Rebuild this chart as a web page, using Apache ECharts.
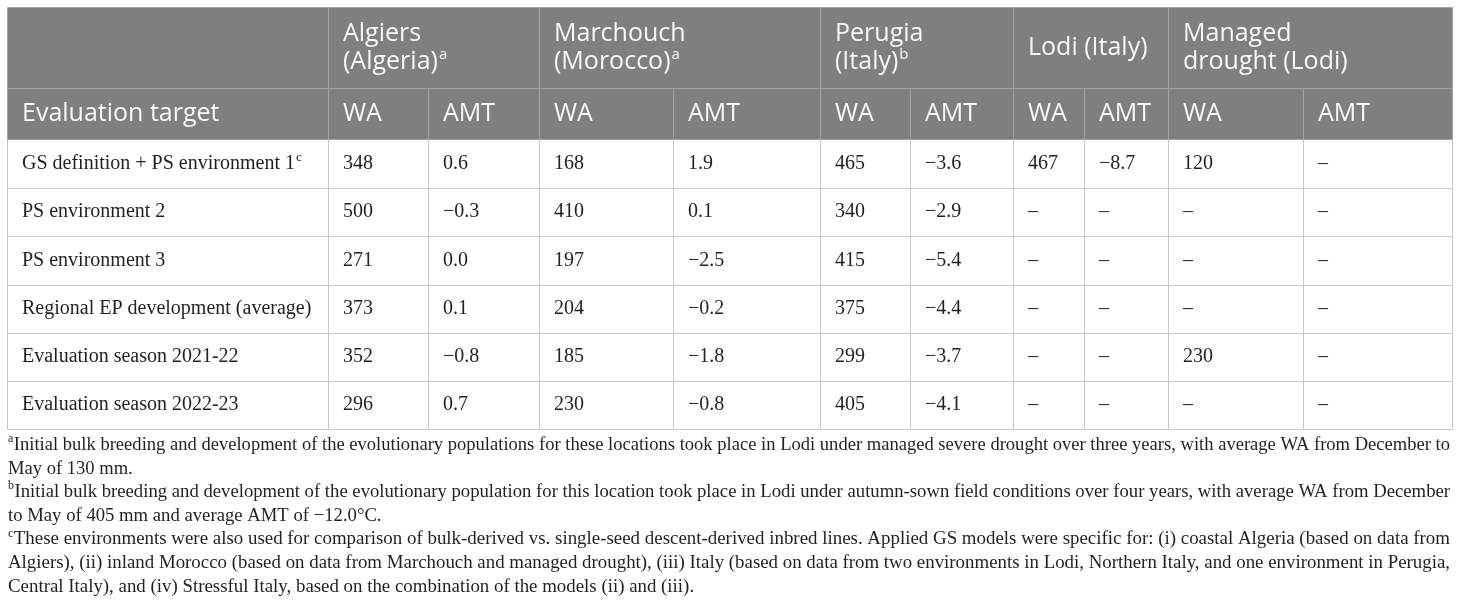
<!DOCTYPE html>
<html>
<head>
<meta charset="utf-8">
<script src="https://cdn.jsdelivr.net/npm/echarts@6/dist/echarts.min.js"></script>
<style>
  html, body { margin: 0; padding: 0; background: #fff; }
  #main { width: 1460px; height: 615px; }
</style>
</head>
<body>
<div id="main"></div>
<script>
// ===== 数据 =====
var sites = ['Algiers\n(Algeria)', 'Marchouch\n(Morocco)', 'Perugia\n(Italy)', 'Lodi (Italy)', 'Managed\ndrought (Lodi)'];
var siteNotes = ['a', 'a', 'b', '', ''];
var subHeads = ['WA', 'AMT'];
var firstHead = 'Evaluation target';

var targets = [
  'GS definition + PS environment 1',
  'PS environment 2',
  'PS environment 3',
  'Regional EP development (average)',
  'Evaluation season 2021-22',
  'Evaluation season 2022-23'
];
var targetNotes = ['c', '', '', '', '', ''];

var waAlgiers    = [348, 500, 271, 373, 352, 296];
var amtAlgiers   = [0.6, -0.3, 0.0, 0.1, -0.8, 0.7];
var waMarchouch  = [168, 410, 197, 204, 185, 230];
var amtMarchouch = [1.9, 0.1, -2.5, -0.2, -1.8, -0.8];
var waPerugia    = [465, 340, 415, 375, 299, 405];
var amtPerugia   = [-3.6, -2.9, -5.4, -4.4, -3.7, -4.1];
var waLodi       = [467, null, null, null, null, null];
var amtLodi      = [-8.7, null, null, null, null, null];
var waDrought    = [120, null, null, null, 230, null];
var amtDrought   = [null, null, null, null, null, null];

var footNotes = [
  { mark: 'a', lines: [
    'Initial bulk breeding and development of the evolutionary populations for these locations took place in Lodi under managed severe drought over three years, with average WA from December to',
    'May of 130 mm.'
  ]},
  { mark: 'b', lines: [
    'Initial bulk breeding and development of the evolutionary population for this location took place in Lodi under autumn-sown field conditions over four years, with average WA from December',
    'to May of 405 mm and average AMT of \u221212.0\u00b0C.'
  ]},
  { mark: 'c', lines: [
    'These environments were also used for comparison of bulk-derived vs. single-seed descent-derived inbred lines. Applied GS models were specific for: (i) coastal Algeria (based on data from',
    'Algiers), (ii) inland Morocco (based on data from Marchouch and managed drought), (iii) Italy (based on data from two environments in Lodi, Northern Italy, and one environment in Perugia,',
    'Central Italy), and (iv) Stressful Italy, based on the combination of the models (ii) and (iii).'
  ]}
];

// ===== 版式 =====
var colEdges = [7, 328, 428, 539, 673, 820, 910, 1013, 1084, 1168, 1303, 1452];
var rowEdges = [7, 88, 139, 188, 236, 285, 333, 381, 429];
var PAD = 15;
var HEAD_FONT = '25px "Open Sans"';
var HEAD_SUP = '15px "Open Sans"';
var HEAD_LH = 28;
var BODY_FONT = '20px "Liberation Serif"';
var BODY_SUP = '13px "Liberation Serif"';
var FOOT_FONT = '19px "Liberation Serif"';
var FOOT_SUP = '12px "Liberation Serif"';
var FOOT_X = 8, FOOT_RIGHT = 1450, FOOT_Y0 = 445, FOOT_GAP = 23.6;

var measureCtx = document.createElement('canvas').getContext('2d');
function textW(s, font) { measureCtx.font = font; return measureCtx.measureText(s).width; }

function fmtWa(v) { return v == null ? '\u2013' : String(v); }
function fmtAmt(v) {
  if (v == null) return '\u2013';
  var s = Math.abs(v).toFixed(1);
  return v < 0 ? '\u2212' + s : s;
}

// ===== 单元格 =====
var headCells = [];
headCells.push({ x0: colEdges[0], x1: colEdges[1], y0: rowEdges[0], y1: rowEdges[1], text: '', sup: '' });
sites.forEach(function(s, i) {
  headCells.push({ x0: colEdges[1 + 2 * i], x1: colEdges[3 + 2 * i], y0: rowEdges[0], y1: rowEdges[1], text: s, sup: siteNotes[i] });
});
headCells.push({ x0: colEdges[0], x1: colEdges[1], y0: rowEdges[1], y1: rowEdges[2], text: firstHead, sup: '' });
sites.forEach(function(s, i) {
  subHeads.forEach(function(h, j) {
    var c = 1 + 2 * i + j;
    headCells.push({ x0: colEdges[c], x1: colEdges[c + 1], y0: rowEdges[1], y1: rowEdges[2], text: h, sup: '' });
  });
});

var bodyCols = [waAlgiers, amtAlgiers, waMarchouch, amtMarchouch, waPerugia, amtPerugia, waLodi, amtLodi, waDrought, amtDrought];
var bodyCells = [];
targets.forEach(function(t, r) {
  var y0 = rowEdges[2 + r], y1 = rowEdges[3 + r];
  bodyCells.push({ x0: colEdges[0], x1: colEdges[1], y0: y0, y1: y1, text: t, sup: targetNotes[r] });
  bodyCols.forEach(function(col, c) {
    var txt = c % 2 === 0 ? fmtWa(col[r]) : fmtAmt(col[r]);
    bodyCells.push({ x0: colEdges[c + 1], x1: colEdges[c + 2], y0: y0, y1: y1, text: txt, sup: '' });
  });
});

// 脚注行
var footLines = [];
footNotes.forEach(function(n) {
  n.lines.forEach(function(l, k) {
    footLines.push({ text: l, sup: k === 0 ? n.mark : '', full: k < n.lines.length - 1 || n.lines.length === 3 && k === 1 });
  });
});
var lastScale = 1;
footLines.forEach(function(f, i) {
  f.y = FOOT_Y0 + i * FOOT_GAP;
  f.supW = f.sup ? textW(f.sup, FOOT_SUP) + 0.5 : 0;
  var natural = textW(f.text, FOOT_FONT);
  if (f.full) {
    f.scale = (FOOT_RIGHT - FOOT_X - f.supW) / natural;
    lastScale = f.scale;
  } else {
    f.scale = lastScale;
  }
});

function cellRender(cells, opt) {
  return function(params, api) {
    var c = cells[params.dataIndex];
    var p0 = api.coord([api.value(0), api.value(1)]);
    var p1 = api.coord([api.value(2), api.value(3)]);
    var x = Math.round(p0[0]) + 0.5, y = Math.round(p0[1]) + 0.5;
    var w = Math.round(p1[0]) - Math.round(p0[0]), h = Math.round(p1[1]) - Math.round(p0[1]);
    var children = [{
      type: 'rect',
      shape: { x: x, y: y, width: w, height: h },
      style: { fill: opt.fill, stroke: opt.stroke, lineWidth: 1 }
    }];
    if (c.text) {
      var cy = (p0[1] + p1[1]) / 2;
      var lines = c.text.split('\n');
      children.push({
        type: 'text',
        x: p0[0] + PAD, y: cy,
        style: { text: c.text, font: opt.font, fill: opt.color, align: 'left', verticalAlign: 'middle', lineHeight: opt.lh }
      });
      if (c.sup) {
        var last = lines[lines.length - 1];
        var lastCy = cy + (lines.length - 1) * opt.lh / 2;
        children.push({
          type: 'text',
          x: p0[0] + PAD + textW(last, opt.font) + 1, y: lastCy - opt.supRaise,
          style: { text: c.sup, font: opt.supFont, fill: opt.color, align: 'left', verticalAlign: 'middle' }
        });
      }
    }
    return { type: 'group', children: children };
  };
}

function footRender(params, api) {
  var f = footLines[params.dataIndex];
  var p = api.coord([api.value(0), api.value(1)]);
  var children = [];
  if (f.sup) {
    children.push({
      type: 'text', x: p[0], y: p[1] - 6,
      style: { text: f.sup, font: FOOT_SUP, fill: '#231f20', align: 'left', verticalAlign: 'middle' }
    });
  }
  children.push({
    type: 'text', x: p[0] + f.supW, y: p[1], scaleX: f.scale,
    style: { text: f.text, font: FOOT_FONT, fill: '#231f20', align: 'left', verticalAlign: 'middle' }
  });
  return { type: 'group', children: children };
}

// ===== 渲染 =====
var chart = echarts.init(document.getElementById('main'), null, { renderer: 'canvas' });
chart.setOption({
  animation: false,
  backgroundColor: '#ffffff',
  grid: { left: 0, right: 0, top: 0, bottom: 0 },
  xAxis: { type: 'value', min: 0, max: 1460, show: false },
  yAxis: { type: 'value', min: 0, max: 615, inverse: true, show: false },
  series: [
    {
      type: 'custom',
      name: 'body',
      clip: false,
      data: bodyCells.map(function(c) { return [c.x0, c.y0, c.x1, c.y1]; }),
      renderItem: cellRender(bodyCells, {
        fill: '#ffffff', stroke: '#c9c9c9', font: BODY_FONT, supFont: BODY_SUP,
        color: '#231f20', lh: 24, supRaise: 6
      }),
      z: 1
    },
    {
      type: 'custom',
      name: 'head',
      clip: false,
      data: headCells.map(function(c) { return [c.x0, c.y0, c.x1, c.y1]; }),
      renderItem: cellRender(headCells, {
        fill: '#7f7f7f', stroke: '#a2a2a2', font: HEAD_FONT, supFont: HEAD_SUP,
        color: '#f7f7f7', lh: HEAD_LH, supRaise: 7
      }),
      z: 2
    },
    {
      type: 'custom',
      name: 'notes',
      clip: false,
      data: footLines.map(function(f) { return [FOOT_X, f.y]; }),
      renderItem: footRender,
      z: 3
    }
  ]
});

window.addEventListener('resize', function() { chart.resize(); });
</script>
</body>
</html>
